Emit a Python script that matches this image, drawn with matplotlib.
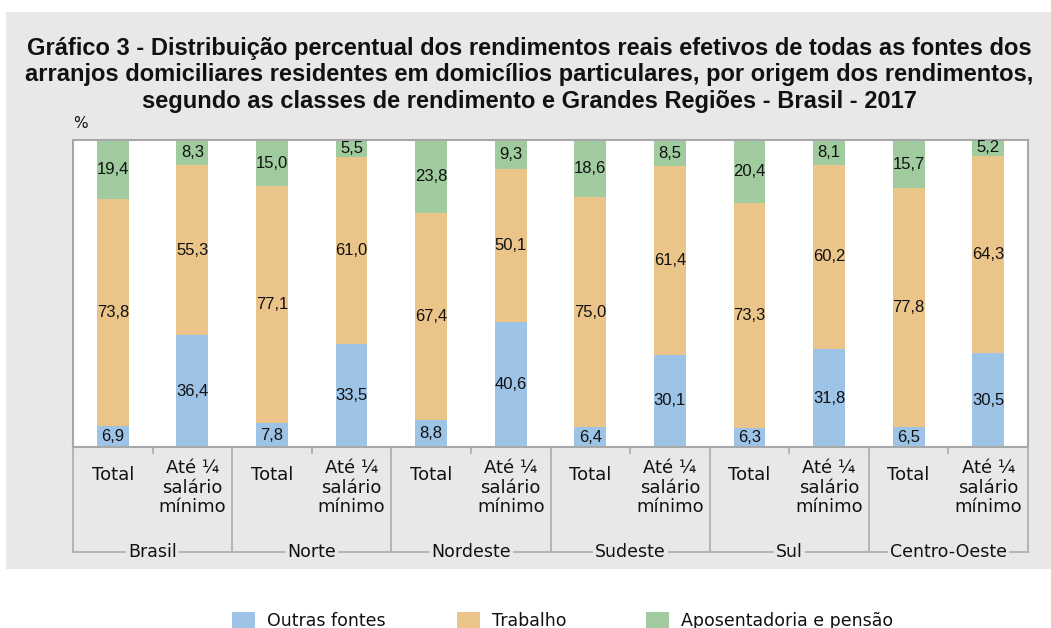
import matplotlib
matplotlib.use("Agg")
import matplotlib.pyplot as plt
import matplotlib.transforms as mtransforms
from matplotlib.patches import Rectangle
import numpy as np

regions = ["Brasil", "Norte", "Nordeste", "Sudeste", "Sul", "Centro-Oeste"]
classes = ["Total", "Até ¼\nsalário\nmínimo"]
outras = [6.9, 36.4, 7.8, 33.5, 8.8, 40.6, 6.4, 30.1, 6.3, 31.8, 6.5, 30.5]
trabalho = [73.8, 55.3, 77.1, 61.0, 67.4, 50.1, 75.0, 61.4, 73.3, 60.2, 77.8, 64.3]
aposent = [19.4, 8.3, 15.0, 5.5, 23.8, 9.3, 18.6, 8.5, 20.4, 8.1, 15.7, 5.2]
series_names = ["Outras fontes", "Trabalho", "Aposentadoria e pensão"]
colors = ["#9dc3e6", "#ebc48a", "#9fcb9e"]
title = ("Gráfico 3 - Distribuição percentual dos rendimentos reais efetivos de todas as fontes dos\n"
         "arranjos domiciliares residentes em domicílios particulares, por origem dos rendimentos,\n"
         "segundo as classes de rendimento e Grandes Regiões - Brasil - 2017")

W, H = 1051, 628
fig = plt.figure(figsize=(W / 100, H / 100), dpi=100)
fig.patch.set_facecolor("white")

def fx(px):
    return px / W

def fy(py):
    return 1 - py / H

# gray panel
fig.patches.append(Rectangle((fx(6), fy(569)), fx(1051) - fx(6), fy(12) - fy(569),
                             transform=fig.transFigure, facecolor="#e8e8e8",
                             edgecolor="none", zorder=-5))

ax = fig.add_axes([fx(73), fy(447), fx(1028) - fx(73), fy(140) - fy(447)])
ax.set_zorder(1)
ax.set_facecolor("white")

n = len(outras)
x = np.arange(n)
series = [outras, trabalho, aposent]
bottom = np.zeros(n)
for vals, c in zip(series, colors):
    vals = np.array(vals)
    ax.bar(x, vals, bottom=bottom, width=0.40, color=c, edgecolor="none", zorder=2)
    for xi, b, v in zip(x, bottom, vals):
        ax.text(xi, b + v / 2, f"{v:.1f}".replace(".", ","), ha="center", va="center",
                fontsize=12, family="Liberation Sans", color="#111111", zorder=3,
                clip_on=False)
    bottom = bottom + vals

ax.set_xlim(-0.5, n - 0.5)
ax.set_ylim(0, 100)
ax.set_xticks([])
ax.set_yticks([])
for s in ax.spines.values():
    s.set_color("#a8a8a8")
    s.set_linewidth(1.5)

# category axis
trans = mtransforms.blended_transform_factory(ax.transData, ax.transAxes)
ph = 447 - 140
def ay(py):
    return (447 - py) / ph

lc = "#b0b0b0"
for g in range(len(regions) + 1):
    xb = g * 2 - 0.5
    ax.plot([xb, xb], [0, ay(552)], transform=trans, color=lc, lw=1.3, clip_on=False)
for g in range(len(regions)):
    xm = g * 2 + 0.5
    ax.plot([xm, xm], [0, ay(453)], transform=trans, color=lc, lw=1.3, clip_on=False)
ax.plot([-0.5, n - 0.5], [ay(552), ay(552)], transform=trans, color=lc, lw=1.3, clip_on=False)

for i in range(n):
    lab = classes[i % 2]
    if i % 2 == 0:
        ax.text(i, ay(475), lab, transform=trans, ha="center", va="center",
                fontsize=13, family="DejaVu Sans", color="#111111")
    else:
        ax.text(i, ay(459), lab, transform=trans, ha="center", va="top",
                fontsize=13, family="DejaVu Sans", color="#111111", linespacing=1.12)
for g, r in enumerate(regions):
    ax.text(g * 2 + 0.5, ay(552), r, transform=trans, ha="center", va="center",
            fontsize=12.5, family="DejaVu Sans", color="#111111",
            bbox=dict(facecolor="#e8e8e8", edgecolor="none", pad=1.5))

fig.text(fx(80), fy(123), "%", ha="center", va="center", fontsize=11,
         family="DejaVu Sans", color="#111111")

fig.text(fx(529), fy(75), title, ha="center", va="center", fontsize=17,
         family="Liberation Sans", weight="bold", linespacing=1.2, color="#111111")

# legend
leg_x = [232, 457, 646]
for lx, name, c in zip(leg_x, series_names, colors):
    fig.patches.append(Rectangle((fx(lx), fy(630)), fx(23), fy(612) - fy(630),
                                 transform=fig.transFigure, facecolor=c, edgecolor="none"))
    fig.text(fx(lx + 35), fy(621), name, ha="left", va="center", fontsize=12.5,
             family="DejaVu Sans", color="#111111")

fig.savefig("out.png", dpi=100)
